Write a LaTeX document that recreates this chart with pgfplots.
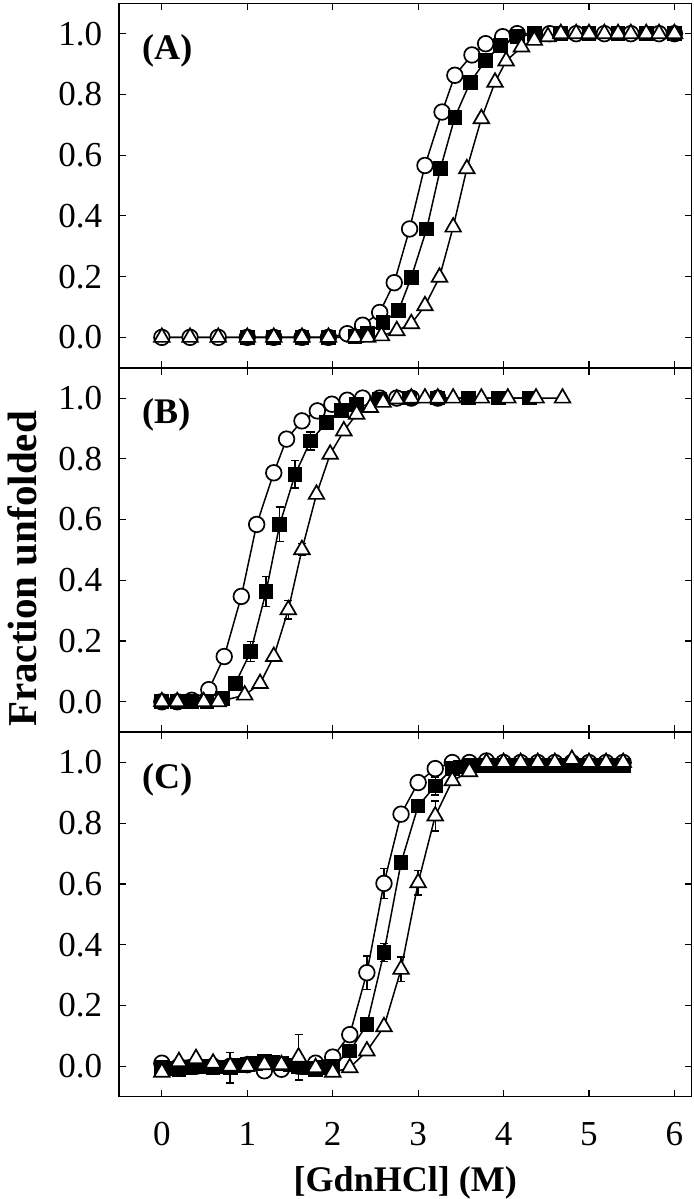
\documentclass[border=0pt]{standalone}
\usepackage{fontspec}
\setmainfont{Liberation Serif}
\usepackage{pgfplots}
\pgfplotsset{compat=1.18}

\pgfplotsset{
 panel/.style={
  scale only axis, width=285.85pt, height=182pt,
  xmin=-0.5, xmax=6.2, ymin=-0.1, ymax=1.1,
  xtick={0,1,2,3,4,5,6}, ytick={0,0.2,0.4,0.6,0.8,1.0},
  tick align=inside, tick pos=both, major tick length=3.5pt,
  axis line style={line width=0.8pt},
  every tick/.style={line width=0.6pt, black},
  /pgf/number format/assume math mode=true,
  yticklabel style={/pgf/number format/fixed, /pgf/number format/fixed zerofill,
     /pgf/number format/precision=1, font=\fontsize{17.5}{20}\selectfont, xshift=-5pt},
  xticklabel style={font=\fontsize{17.5}{20}\selectfont, yshift=-9.5pt},
 },
 circ/.style={black, line width=0.75pt, mark=*, mark size=3.9pt, mark options={fill=white, draw=black, line width=0.85pt}},
 sq/.style={black, line width=0.75pt, mark=square*, mark size=3.3pt, mark options={fill=black, draw=black}},
 tri/.style={black, line width=0.75pt, mark=triangle*, mark size=4.5pt, mark options={fill=white, draw=black, line width=0.85pt}},
 ebar/.style={draw=none, mark=none, error bars/.cd, y dir=both, y explicit,
   error bar style={draw=black, line width=0.7pt},
   error mark options={draw=black, rotate=90, mark size=2pt, line width=0.7pt}},
}

\begin{document}
\begin{tikzpicture}
% ---------------- Panel A ----------------
\begin{axis}[panel, name=A, at={(0,0)}, anchor=north west, xticklabels={}]
\addplot[circ] coordinates {
(0,0) (0.33,0) (0.66,0) (1.0,0) (1.31,0) (1.64,0) (1.95,0) (2.17,0.012) (2.35,0.04)
(2.55,0.082) (2.72,0.18) (2.90,0.357) (3.08,0.566) (3.28,0.742) (3.43,0.863)
(3.63,0.93) (3.79,0.967) (3.99,0.99) (4.16,1.0) (4.54,1.0) (4.85,1.0) (5.18,1.0)
(5.49,1.0) (5.82,1.0) (6.0,1.0)};
\addplot[sq] coordinates {
(1.0,0) (1.31,0) (1.64,0) (1.95,0) (2.26,0.002) (2.41,0.012) (2.59,0.05) (2.77,0.088)
(2.92,0.198) (3.10,0.357) (3.26,0.555) (3.43,0.725) (3.61,0.84) (3.79,0.912)
(3.96,0.96) (4.16,0.99) (4.36,1.0) (4.67,1.0) (5.0,1.0) (5.34,1.0) (5.67,1.0) (6.0,1.0)};
\addplot[tri] coordinates {
(0,0) (0.33,0) (0.66,0) (1.0,0) (1.31,0) (1.64,0) (1.95,0) (2.26,0) (2.41,0.0)
(2.57,0.005) (2.75,0.022) (2.92,0.045) (3.08,0.104) (3.25,0.198) (3.41,0.363)
(3.57,0.555) (3.74,0.72) (3.90,0.84) (4.03,0.91) (4.21,0.956) (4.36,0.978)
(4.52,0.99) (4.67,1.0) (4.85,1.0) (5.0,1.0) (5.18,1.0) (5.34,1.0) (5.49,1.0)
(5.67,1.0) (5.82,1.0) (6.0,1.0)};
\end{axis}
% ---------------- Panel B ----------------
\begin{axis}[panel, name=B, at={(A.south west)}, anchor=north west, xticklabels={}]
\addplot[ebar] coordinates {
(1.04,0.165) +- (0,0.033) (1.22,0.363) +- (0,0.05) (1.38,0.584) +- (0,0.057)
(1.56,0.749) +- (0,0.045) (1.74,0.859) +- (0,0.03) (1.48,0.303) +- (0,0.03)
(1.64,0.501) +- (0,0.02)};
\addplot[circ] coordinates {
(0,0) (0.18,0) (0.35,0.005) (0.55,0.04) (0.73,0.149) (0.93,0.347) (1.11,0.584)
(1.31,0.754) (1.46,0.865) (1.64,0.925) (1.82,0.958) (1.99,0.98) (2.17,0.993)
(2.35,1.0) (2.55,1.0) (2.75,1.0) (2.92,1.0) (3.23,1.0)};
\addplot[sq] coordinates {
(0,0) (0.18,0) (0.35,0) (0.53,0) (0.71,0.01) (0.86,0.06) (1.04,0.165) (1.22,0.363)
(1.38,0.584) (1.56,0.749) (1.74,0.859) (1.93,0.92) (2.10,0.958) (2.28,0.98)
(2.55,0.997) (2.90,1.0) (3.23,1.0) (3.59,1.0) (3.94,1.0) (4.30,1.0)};
\addplot[tri] coordinates {
(0,0) (0.18,0) (0.49,0) (0.66,0) (0.97,0.022) (1.15,0.06) (1.31,0.149) (1.48,0.303)
(1.64,0.501) (1.81,0.683) (1.97,0.815) (2.13,0.892) (2.28,0.947) (2.44,0.969)
(2.59,0.986) (2.75,0.997) (2.92,1.0) (3.08,1.0) (3.23,1.0) (3.41,1.0) (3.74,1.0)
(4.05,1.0) (4.38,1.0) (4.69,1.0)};
\end{axis}
% ---------------- Panel C ----------------
\begin{axis}[panel, name=C, at={(B.south west)}, anchor=north west]
\addplot[ebar] coordinates {
(0.8,-0.005) +- (0,0.05) (1.6,0.03) +- (0,0.075) (2.4,0.308) +- (0,0.055)
(2.6,0.602) +- (0,0.05) (2.6,0.374) +- (0,0.03) (2.8,0.319) +- (0,0.04)
(3.0,0.604) +- (0,0.04) (3.2,0.824) +- (0,0.05) (3.2,0.923) +- (0,0.03)
(3.2,0.98) +- (0,0.015)};
\addplot[circ] coordinates {
(0,0.01) (0.2,0.0) (0.4,0.0) (0.6,0.0) (0.8,0.0) (1.0,0.005) (1.2,-0.015) (1.4,-0.01)
(1.6,0.0) (1.8,0.01) (2.0,0.03) (2.2,0.104) (2.4,0.308) (2.6,0.602) (2.8,0.83)
(3.0,0.934) (3.2,0.98) (3.4,1.0) (3.6,1.0) (3.8,1.005) (4.0,1.0) (4.2,1.0) (4.4,1.0)
(4.6,1.0) (4.8,1.0) (5.0,1.0) (5.2,1.0) (5.4,1.0)};
\addplot[sq] coordinates {
(0,-0.005) (0.1,-0.008) (0.2,-0.01) (0.3,-0.004) (0.4,0.0) (0.5,-0.002) (0.6,-0.005)
(0.7,-0.003) (0.8,-0.005) (0.9,0.002) (1.0,0.005) (1.1,0.01) (1.2,0.015) (1.3,0.012)
(1.4,0.01) (1.5,0.004) (1.6,0.0) (1.7,-0.006) (1.8,-0.01) (1.9,-0.005) (2.0,0.0)
(2.2,0.05) (2.4,0.137) (2.6,0.374) (2.8,0.67) (3.0,0.857) (3.2,0.923) (3.4,0.98)
(3.5,0.985) (3.6,0.99) (3.7,0.99) (3.8,0.99) (3.9,0.99) (4.0,0.99) (4.1,0.99)
(4.2,0.99) (4.3,0.99) (4.4,0.99) (4.5,0.99) (4.6,0.99) (4.7,0.99) (4.8,0.99)
(4.9,0.99) (5.0,0.99) (5.1,0.99) (5.2,0.99) (5.3,0.99) (5.4,0.99)};
\addplot[tri] coordinates {
(0,-0.02) (0.2,0.015) (0.4,0.025) (0.6,0.01) (0.8,0.0) (1.0,0.0) (1.2,0.005)
(1.4,0.005) (1.6,0.03) (1.8,-0.005) (2.0,-0.02) (2.2,-0.005) (2.4,0.05) (2.6,0.13)
(2.8,0.319) (3.0,0.604) (3.2,0.824) (3.4,0.94) (3.6,0.97) (3.8,1.0) (4.0,1.0)
(4.2,1.0) (4.4,1.0) (4.6,1.0) (4.8,1.01) (5.0,1.0) (5.2,1.0) (5.4,1.0)};
\end{axis}
% ---------------- labels ----------------
\node[anchor=west, font=\fontsize{18}{20}\selectfont\bfseries] at ([xshift=8pt, yshift=158.3pt]A.south west) {(A)};
\node[anchor=west, font=\fontsize{18}{20}\selectfont\bfseries] at ([xshift=8pt, yshift=158.3pt]B.south west) {(B)};
\node[anchor=west, font=\fontsize{18}{20}\selectfont\bfseries] at ([xshift=8pt, yshift=158.3pt]C.south west) {(C)};
\node[rotate=90, font=\fontsize{20.5}{24}\selectfont\bfseries] at ([xshift=-48.5pt, yshift=81.5pt]B.south west) {Fraction unfolded};
\node[font=\fontsize{18}{22}\selectfont\bfseries] at ([yshift=-43pt]C.south) {[GdnHCl] (M)};
\pgfresetboundingbox
\path ([xshift=-59.5pt, yshift=1.65pt]A.north west) rectangle ([xshift=1.15pt, yshift=-51.15pt]C.south east);
\end{tikzpicture}
\end{document}
